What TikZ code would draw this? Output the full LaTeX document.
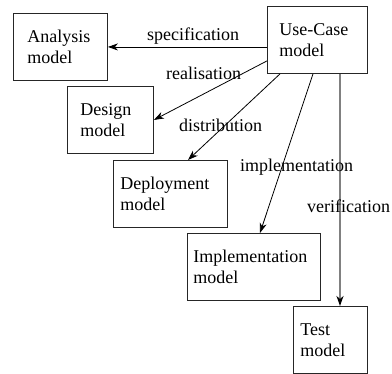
\documentclass[tikz,border=0pt]{standalone}
\usepackage{fontspec}
\setmainfont{Liberation Serif}
\usetikzlibrary{arrows.meta,calc}
\begin{document}
\begin{tikzpicture}[x=1pt,y=-1pt,
  modelbox/.style={draw=black!85,line width=0.9pt,anchor=north west,align=left,
    font=\fontsize{18}{21}\selectfont,inner ysep=0pt,minimum height=67pt},
  lbl/.style={anchor=base west,font=\fontsize{18}{21}\selectfont,inner sep=0pt},
  conn/.style={line width=0.8pt,-{Stealth[length=10pt,width=7pt,inset=3pt]}},
  vconn/.style={draw=black!50,line width=1.3pt,-{Stealth[length=10pt,width=7pt,inset=3pt,fill=black,color=black]}}]
\useasboundingbox (0,0) rectangle (392,374);
\node[modelbox,inner xsep=14pt,text width=66pt] (an) at (13,13) {Analysis\\model};
\node[modelbox,inner xsep=13pt,text width=60pt] (de) at (67,86) {Design\\model};
\node[modelbox,inner xsep=7pt,text width=100pt] (dp) at (113,160) {Deployment\\model};
\node[modelbox,inner xsep=6pt,text width=121pt] (im) at (187,233) {Implementation\\model};
\node[modelbox,inner xsep=7pt,text width=60pt] (te) at (293,306) {Test\\model};
\node[modelbox,inner xsep=12pt,text width=76pt] (uc) at (267,6) {Use-Case\\model};
\coordinate (s1) at ($(uc.south west)+(0,-13)$);
\coordinate (s2) at ($(uc.south west)+(13,0)$);
\coordinate (s3) at ($(uc.south west)+(46,0)$);
\coordinate (s4) at ($(uc.south west)+(73,0)$);
\coordinate (t2) at ($(dp.north west)+(75,0)$);
\coordinate (t3) at ($(im.north west)+(73,0)$);
\draw[conn] (uc.west|-an.east) -- (an.east);
\draw[conn] (s1) -- (de.east);
\draw[conn] (s2) -- (t2);
\draw[conn] (s3) -- (t3);
\draw[vconn] (s4) -- (s4|-te.north);
\node[lbl] (l1) at (147,41) {specification};
\node[lbl] (l2) at (166,80) {realisation};
\node[lbl] (l3) at (179,132) {distribution};
\node[lbl] (l4) at (240,172) {implementation};
\node[lbl] (l5) at (307,213) {verification};
\end{tikzpicture}
\end{document}
